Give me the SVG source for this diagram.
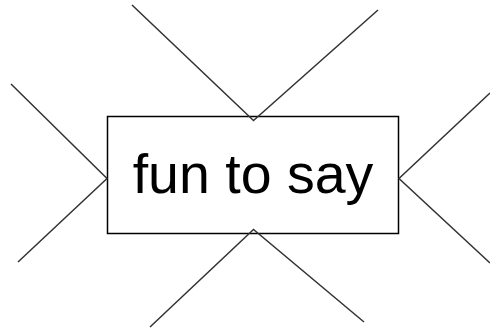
<svg xmlns="http://www.w3.org/2000/svg" width="490" height="332" viewBox="0 0 490 332">
<style>
.edge{stroke:#333;stroke-width:1.5;fill:none}
.box{fill:#fff;stroke:#000;stroke-width:1.5}
.lbl{font-family:"Liberation Sans",Arial,sans-serif;font-size:55.5px;fill:#000;text-anchor:middle}
</style>
<rect width="490" height="332" fill="#fff"/>
<g id="node">
<rect class="box" x="107.5" y="116.5" width="291" height="117"/>
<text class="lbl" x="253" y="192.5">fun to say</text>
</g>
<g id="connectors">
<path class="edge" d="M132,5 L253.5,120.5 L378,10"/>
<path class="edge" d="M11,84 L107,178.5 L18,262"/>
<path class="edge" d="M490,93 L399,178.5 L490,263"/>
<path class="edge" d="M150,327 L253.5,229.5 L364,322"/>
</g>
</svg>
